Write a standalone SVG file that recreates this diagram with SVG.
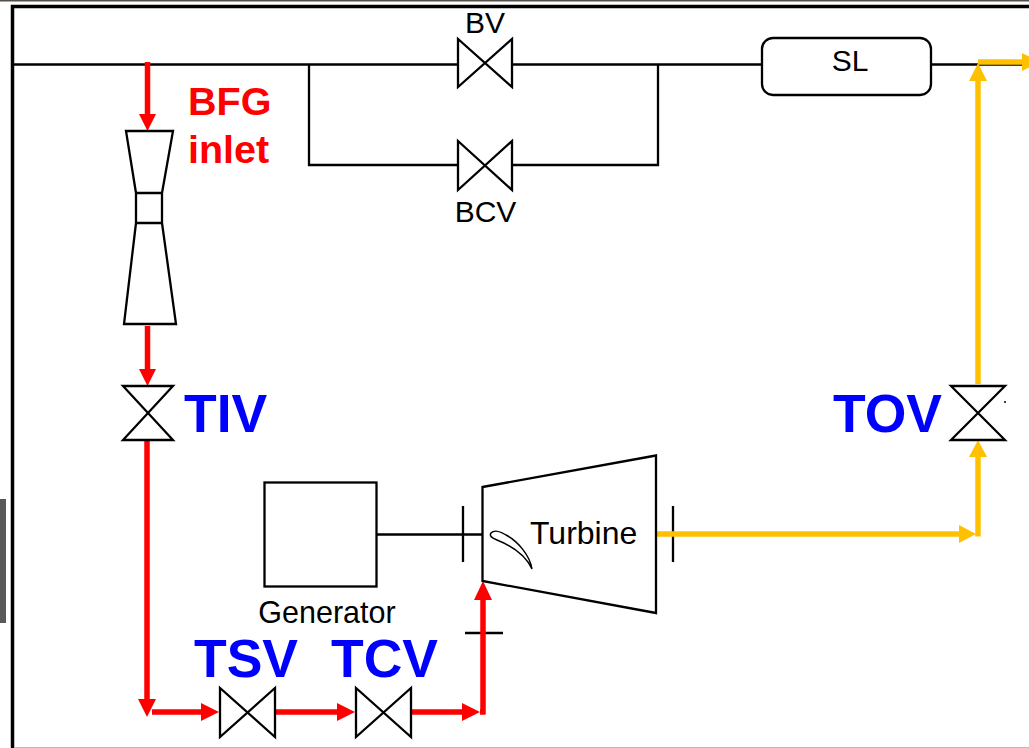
<svg xmlns="http://www.w3.org/2000/svg" width="1029" height="748" viewBox="0 0 1029 748">
<style>
.k{fill:none;stroke:#000;stroke-width:2.3;stroke-linejoin:miter}
.r{fill:none;stroke:#f00;stroke-width:5.500}
.y{fill:none;stroke:#ffc000;stroke-width:5.500}
.rh{fill:#f00}.yh{fill:#ffc000}
text{font-family:"Liberation Sans",Arial,sans-serif}
.l{font-size:30px;fill:#000}
.g{font-size:30.500px;fill:#000}
.b{font-size:53.500px;font-weight:bold;fill:#00f}
.i{font-size:39.500px;font-weight:bold;fill:#f00}
</style>
<rect width="1029" height="748" fill="#fff"/>
<rect x="0" y="0" width="1029" height="1.500" fill="#555049"/>
<rect x="0" y="499" width="6" height="124" fill="#595959"/>
<g id="frame">
<path d="M1029 6.500H12.500V748" fill="none" stroke="#000" stroke-width="3.500"/>
<path d="M14 747.500H1029" stroke="#bbb" stroke-width="1"/>
</g>
<g id="connectors">
<path class="k" d="M11 64.500H458M512 64.500H762M931 64.500H1029"/>
<path class="k" d="M309 64.500V165H458M512 165H658V64.500"/>
<path class="k" d="M377 534.500H482M463 506V562M673 506V562M465 633H503"/>
<path class="r" d="M147.500 62V115"/>
<polygon class="rh" points="139,114 156,114 147.500,131"/>
<path class="r" d="M147.500 326V371"/>
<polygon class="rh" points="139,369 156,369 147.500,386"/>
<path class="r" d="M147 440V702"/>
<polygon class="rh" points="138,699 156,699 147,717"/>
<path class="r" d="M152 712H204"/>
<polygon class="rh" points="201,703 219,712 201,721"/>
<path class="r" d="M275 712H340"/>
<polygon class="rh" points="337,703 355,712 337,721"/>
<path class="r" d="M412 712H465"/>
<polygon class="rh" points="462,703 480,712 462,721"/>
<path class="r" d="M480 712H485.500M483 714V596"/>
<polygon class="rh" points="474,600 492,600 483,581"/>
<path class="y" d="M656 534H960"/>
<polygon class="yh" points="959,525 976,534 959,543"/>
<path class="y" d="M978 536.500V455"/>
<polygon class="yh" points="969,457 987,457 978,440"/>
<path class="y" d="M978 384V78"/>
<polygon class="yh" points="969,81 987,81 978,63"/>
<path class="y" d="M978 62H1024"/>
<polygon class="yh" points="1022,53 1029,56.500 1029,67.500 1022,71"/>
<path d="M1005 401V403" stroke="#000" stroke-width="1.500"/>
</g>
<g id="BV"><polygon class="k" points="458,39 458,87 512,39 512,87"/><text class="l" x="485" y="33" text-anchor="middle">BV</text></g>
<g id="BCV"><polygon class="k" points="458,141 458,190 512,141 512,190"/><text class="l" x="485.500" y="222" text-anchor="middle">BCV</text></g>
<g id="SL"><rect class="k" x="762" y="38" width="169" height="57" rx="11"/><text class="l" x="850" y="71" text-anchor="middle">SL</text></g>
<g id="venturi">
<path class="k" d="M126 131H173L162 193H136ZM136 193V223H162V193M136 223L124 324H176L162 223"/>
</g>
<g id="inlet-label"><text class="i" x="188" y="115">BFG</text><text class="i" x="188" y="163">inlet</text></g>
<g id="TIV"><polygon class="k" points="123,386 173,386 123,440 173,440"/><text class="b" x="184" y="432">TIV</text></g>
<g id="TOV"><polygon class="k" points="951,386 1005,386 951,440 1005,440"/><text class="b" x="833" y="432">TOV</text></g>
<g id="TSV"><polygon class="k" points="220,688 220,737 275,688 275,737"/><text class="b" x="194" y="677">TSV</text></g>
<g id="TCV"><polygon class="k" points="356,688 356,737 411,688 411,737"/><text class="b" x="331" y="677">TCV</text></g>
<g id="generator"><rect class="k" x="264.500" y="482.500" width="112" height="104"/><text class="g" x="327" y="623" text-anchor="middle">Generator</text></g>
<g id="turbine">
<polygon class="k" points="482.500,487 656,455.500 656,613 482.500,581"/>
<path d="M491 533C494 530 500 531 506 535C518 541 530 556 532 569C526 556 512 546 497 540C492 538 489 536 491 533Z" fill="#fff" stroke="#000" stroke-width="1.500"/>
<text x="530" y="544" font-size="32" fill="#000">Turbine</text>
</g>
</svg>
